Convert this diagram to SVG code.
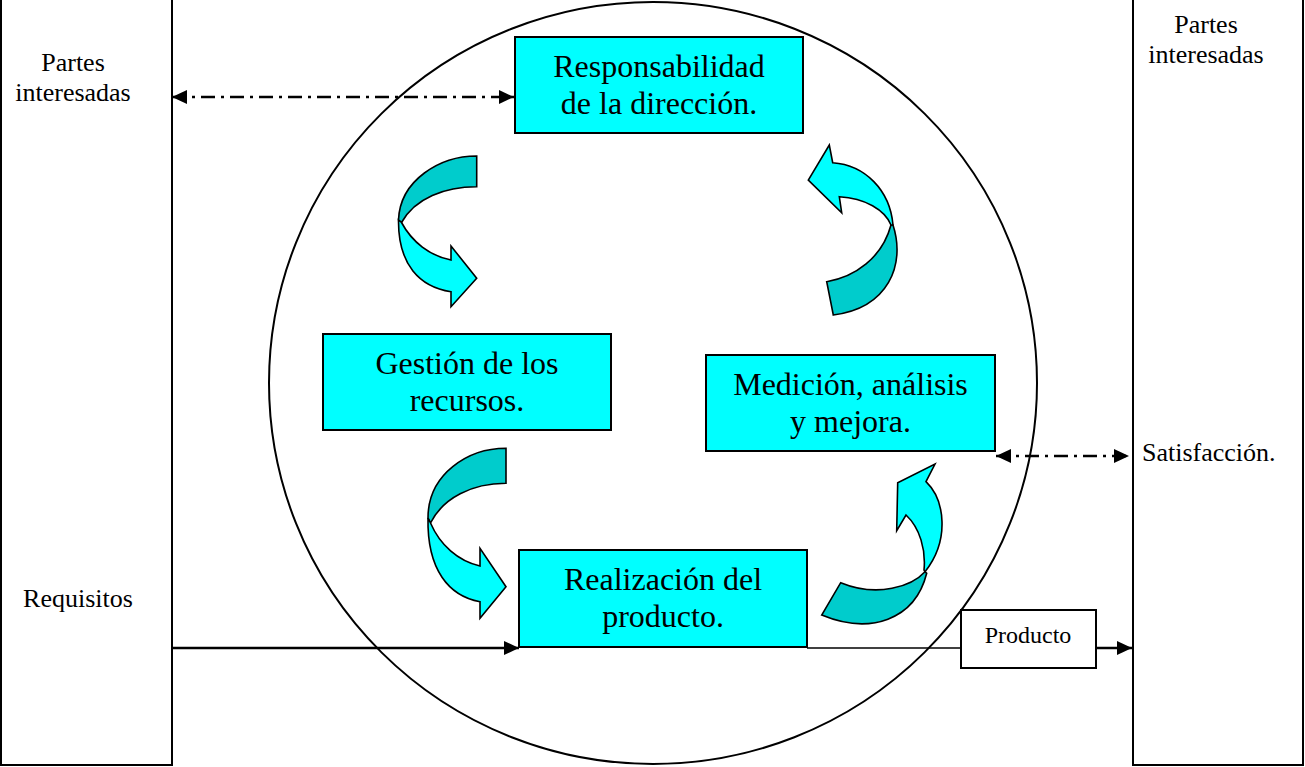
<svg xmlns="http://www.w3.org/2000/svg" width="1305" height="767" viewBox="0 0 1305 767">
<style>
.panel{fill:#fff;stroke:#000;stroke-width:2}
.box{fill:#00FFFF;stroke:#000;stroke-width:2}
.wbox{fill:#fff;stroke:#000;stroke-width:2}
.t{font-family:"Liberation Serif","Times New Roman",serif;fill:#000}
.bt{font-size:32px;text-anchor:middle}
.st{font-size:26px}
.dd{fill:none;stroke:#000;stroke-width:2.5;stroke-dasharray:14 6 3 6}
.sl{fill:none;stroke:#000;stroke-width:2.5}
.thin{fill:none;stroke:#000;stroke-width:1.5}
.lt{fill:#00FFFF;stroke:#000;stroke-width:1.6;stroke-linejoin:miter}
.dk{fill:#00CCCC;stroke:#000;stroke-width:1.6;stroke-linejoin:miter}
</style>
<defs>
<marker id="ah" markerUnits="userSpaceOnUse" markerWidth="16" markerHeight="14" refX="15" refY="7" orient="auto-start-reverse" overflow="visible">
<path d="M0,0 L15,7 L0,14 Z" fill="#000" stroke="none"/>
</marker>
</defs>
<rect width="1305" height="767" fill="#fff"/>
<g id="panel-left">
<rect class="panel" x="1" y="-5" width="171" height="770"/>
<text class="t st" x="73" y="71" text-anchor="middle">Partes</text>
<text class="t st" x="73" y="101" text-anchor="middle">interesadas</text>
<text class="t st" x="78" y="607" text-anchor="middle">Requisitos</text>
</g>
<g id="panel-right">
<rect class="panel" x="1133" y="-5" width="170" height="770"/>
<text class="t st" x="1206" y="33" text-anchor="middle">Partes</text>
<text class="t st" x="1206" y="63" text-anchor="middle">interesadas</text>
<text class="t st" x="1142" y="461">Satisfacción.</text>
</g>
<g id="circle">
<ellipse cx="653" cy="383" rx="384" ry="381" fill="none" stroke="#000" stroke-width="2"/>
</g>
<g id="connectors">
<path class="dd" d="M172,97 L514,97" marker-start="url(#ah)" marker-end="url(#ah)"/>
<path class="dd" d="M996,456 L1129,456" marker-start="url(#ah)" marker-end="url(#ah)"/>
<path class="sl" d="M172,648 L519,648" marker-end="url(#ah)"/>
<path class="thin" d="M807,648 L961,648"/>
<path class="sl" d="M1096,648 L1132,648" marker-end="url(#ah)"/>
</g>
<g id="responsabilidad">
<rect class="box" x="515" y="37" width="288" height="96"/>
<text class="t bt" x="659" y="77">Responsabilidad</text>
<text class="t bt" x="659" y="114">de la dirección.</text>
</g>
<g id="gestion">
<rect class="box" x="323" y="334" width="288" height="96"/>
<text class="t bt" x="467" y="374">Gestión de los</text>
<text class="t bt" x="467" y="411">recursos.</text>
</g>
<g id="medicion">
<rect class="box" x="706" y="355" width="289" height="96"/>
<text class="t bt" x="850.5" y="395">Medición, análisis</text>
<text class="t bt" x="850.5" y="432">y mejora.</text>
</g>
<g id="realizacion">
<rect class="box" x="519" y="550" width="288" height="97"/>
<text class="t bt" x="663" y="590">Realización del</text>
<text class="t bt" x="663" y="627">producto.</text>
</g>
<g id="producto">
<rect class="wbox" x="961" y="610" width="135" height="58"/>
<text class="t" x="1028" y="643" font-size="24" text-anchor="middle">Producto</text>
</g>
<g id="arrow-1">
<path class="dk" d="M476.7,156 C440,156 400,180 398.5,220 L401.5,222.5 C415,198 445,186.7 476.7,186.7 Z"/>
<path class="lt" d="M401.5,222.5 C412,242 430,256 451,260 L451,246 L476.7,278.3 L451,306.7 L451,291.7 C420,287 398,265 398.5,220 Z"/>
</g>
<g id="arrow-2">
<path class="dk" d="M893,225 C906,265 888,308 833.3,315 L826.7,281.7 C855,277 882,258 891,225 Z"/>
<path class="lt" d="M891,225 C885,210 865,198 839.3,196.7 L841.7,212.7 L808.3,180 L829.3,145 L832.7,162.7 C865,165 890,190 893,225 Z"/>
</g>
<g id="arrow-3">
<path class="dk" d="M506,448.3 C468,448.3 428,474 428,518 L430.5,523 C443,498 472,483.3 506,483.3 Z"/>
<path class="lt" d="M430.5,523 C440,545 458,561 480,566 L480,548.3 L506,586.7 L480,618.3 L480,601.7 C449,596 427,570 428,518 Z"/>
</g>
<g id="arrow-4">
<path class="dk" d="M925,571.7 C912,586 878,598 840.7,582.7 L821.7,615 C870,635 915,620 926.7,573.3 Z"/>
<path class="lt" d="M924,570 C926,550 920,528 906,515 L896.7,530.7 L897.7,482.7 L935,464 L926,481.7 C945,500 950,540 925,571.7 Z"/>
</g>
</svg>
